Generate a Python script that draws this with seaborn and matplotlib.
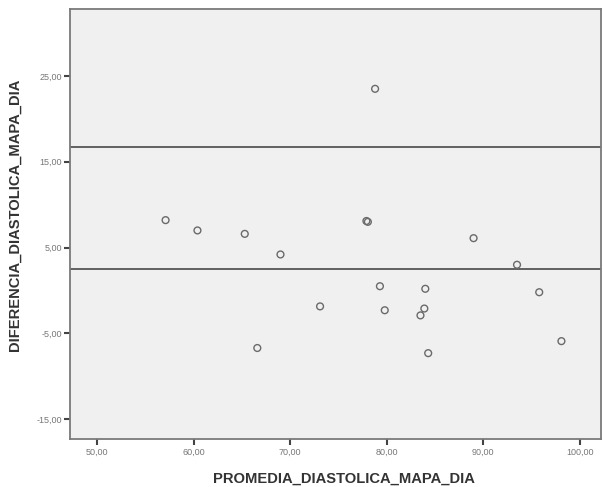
import matplotlib.pyplot as plt
import seaborn as sns
import pandas as pd
from matplotlib.ticker import FuncFormatter

# Bland-Altman style data
promedio = [57.1, 60.4, 65.3, 66.6, 69.0, 73.1, 77.9, 78.05, 78.8, 79.3,
            79.8, 83.5, 83.9, 84.0, 84.3, 89.0, 93.5, 95.8, 98.1]
diferencia = [8.2, 7.0, 6.6, -6.7, 4.2, -1.85, 8.1, 8.0, 23.5, 0.5,
              -2.3, -2.9, -2.1, 0.2, -7.3, 6.1, 3.0, -0.2, -5.9]
ref_lines = [16.7, 2.5]

x_ticks = [50, 60, 70, 80, 90, 100]
y_ticks = [-15, -5, 5, 15, 25]

PANEL_BG = "#f0f0f0"
EDGE = "#7a7a7a"

df = pd.DataFrame({"PROMEDIA_DIASTOLICA_MAPA_DIA": promedio,
                   "DIFERENCIA_DIASTOLICA_MAPA_DIA": diferencia})

sns.set_style("white")
plt.rcParams["font.family"] = ["Liberation Sans", "DejaVu Sans"]

fig = plt.figure(figsize=(6.03, 4.87), dpi=100)
ax = fig.add_axes([0.1161, 0.0986, 0.8806, 0.8829])
ax.set_facecolor(PANEL_BG)

sns.scatterplot(data=df, x="PROMEDIA_DIASTOLICA_MAPA_DIA",
                y="DIFERENCIA_DIASTOLICA_MAPA_DIA", ax=ax,
                marker="o", s=24, facecolor="none", edgecolor="#6a6a6a",
                linewidth=1.0, zorder=3)

for v in ref_lines:
    ax.axhline(v, color="#555555", linewidth=1.3, zorder=2)

ax.set_xlim(47.2, 102.2)
ax.set_ylim(-17.3, 32.8)
ax.set_xticks(x_ticks)
ax.set_yticks(y_ticks)
fmt = FuncFormatter(lambda v, p: f"{v:.2f}".replace(".", ","))
ax.xaxis.set_major_formatter(fmt)
ax.yaxis.set_major_formatter(fmt)

ax.tick_params(axis="both", direction="out", length=4, width=1.5,
               color="#444444", labelcolor="#777777", labelsize=6.5,
               bottom=True, left=True, pad=2)

for side, sp in ax.spines.items():
    sp.set_color(EDGE)
    sp.set_linewidth(1.3)

ax.set_xlabel("PROMEDIA_DIASTOLICA_MAPA_DIA", fontsize=10.6,
              fontweight="bold", color="#333333")
ax.set_ylabel("DIFERENCIA_DIASTOLICA_MAPA_DIA", fontsize=10.6,
              fontweight="bold", color="#333333")
ax.xaxis.set_label_coords(0.5154, -0.077)
ax.yaxis.set_label_coords(-0.0904, 0.521)

fig.savefig("out.png", dpi=100, facecolor="white")
